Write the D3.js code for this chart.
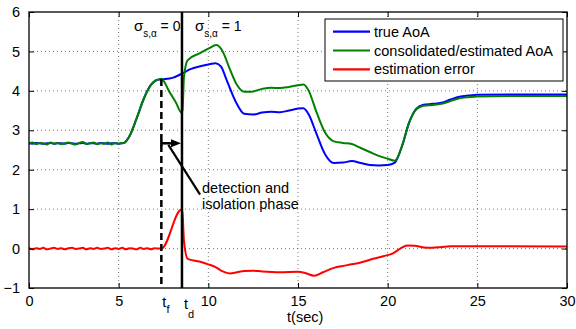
<!doctype html>
<meta charset="utf-8">
<style>
body { margin: 0; background: #fff; }
svg { font-family: "Liberation Sans", Arial, sans-serif; }
.line { fill: none; stroke-width: 2px; stroke-linejoin: round; }
.grid line { stroke: #555; stroke-width: 0.8px; stroke-dasharray: 1,3; }
</style>
<html lang="en">
<body>
<script src="https://d3js.org/d3.v7.min.js"></script>
<script>
// x axis ticks and y axis ticks
var xTicks = [0, 5, 10, 15, 20, 25, 30];
var yTicks = [-1, 0, 1, 2, 3, 4, 5, 6];

// fault time and detection time
var tFault = 7.38, tDetect = 8.53;

// true AoA
var tTrue = [0, 0.2, 0.4, 0.6, 0.8, 1.0, 1.2, 1.4, 1.6, 1.8, 2.0, 2.2, 2.4, 2.6, 2.8, 3.0, 3.2, 3.4, 3.6, 3.8, 4.0, 4.2, 4.4, 4.6, 4.8, 5.0, 5.2,
  5.3, 5.6, 6.0, 6.4, 6.8, 7.1, 7.4, 8.0, 8.5, 9.0, 9.5, 10.0, 10.4, 10.7, 11.0, 11.5, 12.0, 12.5, 13.0, 13.5, 14.0, 14.5, 15.0, 15.3,
  15.6, 16.0, 16.5, 17.0, 17.5, 18.0, 18.5, 19.0, 19.5, 20.0, 20.4, 20.8, 21.2, 21.6, 22.0, 22.5, 23.0, 23.5, 24.0, 24.5, 25.0, 27, 30];
var trueAoA = [2.67, 2.66, 2.68, 2.67, 2.66, 2.67, 2.68, 2.66, 2.67, 2.67, 2.66, 2.68, 2.67, 2.66, 2.67, 2.68, 2.66, 2.67, 2.67, 2.66, 2.68, 2.67, 2.66, 2.67, 2.67, 2.66, 2.67,
  2.68, 2.85, 3.3, 3.8, 4.15, 4.27, 4.29, 4.33, 4.43, 4.55, 4.62, 4.67, 4.70, 4.62, 4.3, 3.75, 3.42, 3.40, 3.45, 3.47, 3.46, 3.50, 3.55, 3.56,
  3.4, 2.95, 2.4, 2.17, 2.18, 2.22, 2.17, 2.12, 2.11, 2.12, 2.18, 2.6, 3.2, 3.55, 3.65, 3.67, 3.70, 3.78, 3.85, 3.88, 3.90, 3.91, 3.91];

// consolidated / estimated AoA
var tEst = [0, 0.2, 0.4, 0.6, 0.8, 1.0, 1.2, 1.4, 1.6, 1.8, 2.0, 2.2, 2.4, 2.6, 2.8, 3.0, 3.2, 3.4, 3.6, 3.8, 4.0, 4.2, 4.4, 4.6, 4.8, 5.0, 5.2,
  5.3, 5.6, 6.0, 6.4, 6.8, 7.1, 7.38, 7.8, 8.2, 8.5, 8.56, 8.64, 8.85, 9.5, 10.0, 10.45, 10.8, 11.2, 11.6, 12.0, 12.4, 13.0, 13.5, 14.0, 14.5, 15.0, 15.3,
  15.6, 16.0, 16.5, 17.0, 17.5, 18.0, 18.5, 19.0, 19.5, 20.0, 20.4, 20.8, 21.2, 21.6, 22.0, 22.5, 23.0, 23.5, 24.0, 24.5, 25.0, 27, 30];
var estAoA = [2.66, 2.69, 2.65, 2.68, 2.67, 2.64, 2.69, 2.66, 2.68, 2.65, 2.67, 2.69, 2.66, 2.64, 2.68, 2.70, 2.65, 2.67, 2.69, 2.65, 2.67, 2.66, 2.69, 2.64, 2.68, 2.66, 2.68,
  2.68, 2.85, 3.3, 3.8, 4.15, 4.27, 4.31, 4.0, 3.7, 3.45, 3.5, 4.35, 4.78, 4.95, 5.07, 5.16, 5.0, 4.55, 4.15, 3.98, 3.98, 4.05, 4.08, 4.07, 4.10, 4.14, 4.16,
  4.0, 3.5, 2.95, 2.72, 2.68, 2.65, 2.55, 2.45, 2.35, 2.28, 2.23, 2.6, 3.2, 3.53, 3.62, 3.64, 3.67, 3.74, 3.81, 3.84, 3.86, 3.87, 3.87];

// estimation error
var tErr = [0, 0.2, 0.4, 0.6, 0.8, 1.0, 1.2, 1.4, 1.6, 1.8, 2.0, 2.2, 2.4, 2.6, 2.8, 3.0, 3.2, 3.4, 3.6, 3.8, 4.0, 4.2, 4.4, 4.6, 4.8, 5.0, 5.2, 5.4, 5.6, 5.8, 6.0, 6.2, 6.4, 6.6, 6.8, 7.0, 7.2,
  7.38, 8.5, 8.56, 8.64, 8.85, 9.5, 10.0, 10.4, 10.8, 11.2, 11.6, 12.0, 12.5, 13.0, 14.0, 15.0, 15.4, 15.9, 16.4, 17.0, 17.5, 18.0, 18.6, 19.2, 19.8, 20.3, 20.7, 21.1, 21.5, 22.0, 22.5, 23.0, 23.5, 25, 30];
var errVals = [0.01, -0.02, 0.01, -0.01, 0.02, -0.02, 0.00, 0.02, -0.01, 0.01, -0.02, 0.01, 0.02, -0.01, 0.00, 0.02, -0.02, 0.01, -0.01, 0.02, -0.01, 0.00, 0.02, -0.02, 0.01, -0.01, 0.02, -0.02, 0.01, 0.00, -0.02, 0.02, -0.01, 0.01, -0.02, 0.01, 0.00,
  0.0, 0.99, 0.9, 0.2, -0.26, -0.33, -0.40, -0.47, -0.58, -0.63, -0.60, -0.57, -0.56, -0.58, -0.60, -0.59, -0.62, -0.69, -0.60, -0.49, -0.44, -0.40, -0.34, -0.26, -0.19, -0.12, 0.0, 0.08, 0.07, 0.03, 0.02, 0.04, 0.06, 0.06, 0.05];

var legendNames = ["true AoA", "consolidated/estimated AoA", "estimation error"];
var colors = ["#0000ff", "#008000", "#ff0000"];

var fs = "14.5px", fsSub = "11px";

var margin = {top: 12, right: 9, bottom: 41, left: 29},
    width = 576 - margin.left - margin.right,
    height = 329 - margin.top - margin.bottom;

var x = d3.scaleLinear().domain([0, 30]).range([0, width]);
var y = d3.scaleLinear().domain([-1, 6]).range([height, 0]);

var svg = d3.select("body").append("svg")
    .attr("width", 576)
    .attr("height", 329)
  .append("g")
    .attr("transform", "translate(" + margin.left + "," + margin.top + ")");

// dotted grid
var grid = svg.append("g").attr("class", "grid");
grid.selectAll(".gx").data(xTicks.slice(1, -1)).enter().append("line")
    .attr("x1", function(d) { return x(d); }).attr("x2", function(d) { return x(d); })
    .attr("y1", 0).attr("y2", height);
grid.selectAll(".gy").data(yTicks.slice(1, -1)).enter().append("line")
    .attr("y1", function(d) { return y(d); }).attr("y2", function(d) { return y(d); })
    .attr("x1", 0).attr("x2", width);

var valueline = d3.line()
    .x(function(d) { return x(d[0]); })
    .y(function(d) { return y(d[1]); })
    .curve(d3.curveMonotoneX);

var series = [d3.zip(tTrue, trueAoA), d3.zip(tEst, estAoA), d3.zip(tErr, errVals)];
series.forEach(function(s, i) {
  svg.append("path")
      .data([s])
      .attr("class", "line")
      .style("stroke", colors[i])
      .attr("d", valueline);
});

// fault (dashed) and detection (solid) lines
svg.append("line")
    .attr("x1", x(tFault)).attr("x2", x(tFault))
    .attr("y1", y(4.3)).attr("y2", height)
    .attr("stroke", "#000").attr("stroke-width", 2.5).attr("stroke-dasharray", "7,4");
svg.append("line")
    .attr("x1", x(tDetect)).attr("x2", x(tDetect))
    .attr("y1", 0).attr("y2", height)
    .attr("stroke", "#000").attr("stroke-width", 2.5);

// arrow between tf and td
var ay = y(2.67);
svg.append("line")
    .attr("x1", x(tFault)).attr("x2", x(tDetect) - 8)
    .attr("y1", ay).attr("y2", ay)
    .attr("stroke", "#000").attr("stroke-width", 2.5);
svg.append("line")
    .attr("x1", x(tFault)).attr("x2", x(tFault))
    .attr("y1", ay - 3).attr("y2", ay + 3)
    .attr("stroke", "#000").attr("stroke-width", 2.5);
svg.append("path")
    .attr("d", "M" + (x(tDetect) - 1) + "," + ay + "L" + (x(tDetect) - 11) + "," + (ay - 4) + "L" + (x(tDetect) - 11) + "," + (ay + 4) + "Z")
    .attr("fill", "#000");
svg.append("line")
    .attr("x1", x(7.77)).attr("y1", y(2.63))
    .attr("x2", x(9.54)).attr("y2", y(1.37))
    .attr("stroke", "#000").attr("stroke-width", 2.2);
svg.append("text").attr("x", x(9.65)).attr("y", y(1.42))
    .attr("font-size", fs).text("detection and");
svg.append("text").attr("x", x(9.65)).attr("y", y(1.01))
    .attr("font-size", fs).text("isolation phase");

// sigma labels
[[5.85, "0"], [9.26, "1"]].forEach(function(d) {
  var t = svg.append("text").attr("x", x(d[0])).attr("y", y(5.52)).attr("font-size", "14px");
  t.append("tspan").attr("font-size", "15px").text("\u03c3");
  t.append("tspan").attr("dy", 6).attr("font-size", "10px").text("s,\u03b1");
  t.append("tspan").attr("dy", -6).text(" = " + d[1]);
});

// box and ticks
svg.append("rect").attr("width", width).attr("height", height)
    .attr("fill", "none").attr("stroke", "#000").attr("stroke-width", 1.3);
svg.append("g").attr("transform", "translate(0," + height + ")")
    .call(d3.axisBottom(x).tickValues(xTicks).tickSizeInner(-5).tickSizeOuter(0).tickPadding(8));
svg.append("g")
    .call(d3.axisTop(x).tickValues(xTicks).tickSizeInner(-5).tickSizeOuter(0).tickFormat(""));
svg.append("g")
    .call(d3.axisLeft(y).tickValues(yTicks).tickSizeInner(-5).tickSizeOuter(0).tickPadding(9).tickFormat(d3.format("d")));
svg.append("g").attr("transform", "translate(" + width + ",0)")
    .call(d3.axisRight(y).tickValues(yTicks).tickSizeInner(-5).tickSizeOuter(0).tickFormat(""));
svg.selectAll(".domain").remove();
svg.selectAll(".tick line").attr("stroke", "#000").attr("stroke-width", 1);
svg.selectAll(".tick text").attr("font-size", fs).attr("fill", "#000")
    .attr("font-family", "Liberation Sans, Arial, sans-serif");

// tf, td labels and axis title
var tf = svg.append("text").attr("x", x(tFault) + 1).attr("y", height + 19).attr("font-size", fs);
tf.append("tspan").text("t");
tf.append("tspan").attr("dy", 6).attr("font-size", fsSub).text("f");
var td = svg.append("text").attr("x", x(tDetect) + 2).attr("y", height + 21).attr("font-size", fs);
td.append("tspan").text("t");
td.append("tspan").attr("dy", 9).attr("font-size", fsSub).text("d");
svg.append("text").attr("x", x(15.4)).attr("y", height + 34)
    .attr("text-anchor", "middle").attr("font-size", fs).text("t(sec)");

// legend
var lg = svg.append("g").attr("transform", "translate(" + (325 - margin.left) + "," + (19 - margin.top) + ")");
lg.append("rect").attr("width", 238).attr("height", 62)
    .attr("fill", "#fff").attr("stroke", "#000").attr("stroke-width", 1);
legendNames.forEach(function(n, i) {
  var cy = 12.7 + i * 18.8;
  lg.append("line").attr("x1", 8).attr("x2", 45).attr("y1", cy).attr("y2", cy)
      .attr("stroke", colors[i]).attr("stroke-width", 2.2);
  lg.append("text").attr("x", 49).attr("y", cy).attr("dy", "0.35em")
      .attr("font-size", fs).text(n);
});
</script>
</body>
</html>
